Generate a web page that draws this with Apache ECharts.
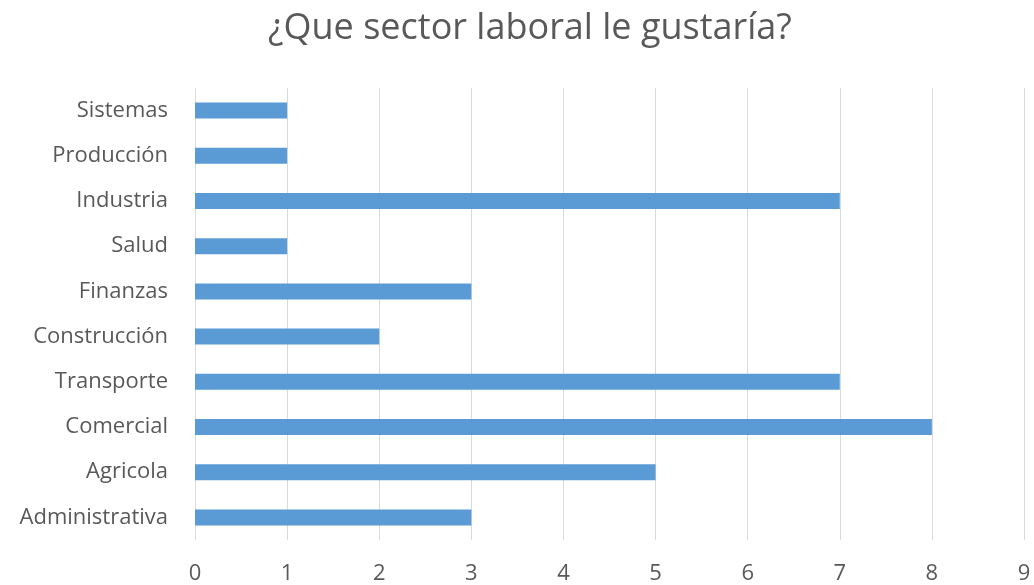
<!DOCTYPE html>
<html>
<head>
<meta charset="utf-8">
<script src="https://cdn.jsdelivr.net/npm/echarts@6/dist/echarts.min.js"></script>
<style>
  html, body { margin: 0; padding: 0; background: #ffffff; }
  #chart { width: 1034px; height: 585px; }
</style>
</head>
<body>
<div id="chart"></div>
<script>
// Sectors, listed bottom to top as they appear on the category axis
const sectores = ['Administrativa', 'Agricola', 'Comercial', 'Transporte', 'Construcción',
                  'Finanzas', 'Salud', 'Industria', 'Producción', 'Sistemas'];
// Number of responses per sector
const respuestas = [3, 5, 8, 7, 2, 3, 1, 7, 1, 1];
// Value axis ticks
const ejeMin = 0;
const ejeMax = 9;
const ejePaso = 1;

const chart = echarts.init(document.getElementById('chart'), null, { renderer: 'canvas' });
const fuente = '"Open Sans", "Noto Sans", sans-serif';
const gris = '#595959';

chart.setOption({
  animation: false,
  backgroundColor: '#ffffff',
  title: {
    text: '¿Que sector laboral le gustaría?',
    left: 263,
    top: 6,
    textStyle: { fontFamily: fuente, fontSize: 36, fontWeight: 'normal', color: gris }
  },
  grid: { left: 195, right: 10, top: 88, bottom: 45 },
  xAxis: {
    type: 'value',
    min: ejeMin,
    max: ejeMax,
    interval: ejePaso,
    axisLine: { show: false },
    axisTick: { show: false },
    splitLine: { lineStyle: { color: '#d9d9d9', width: 1 } },
    axisLabel: { fontFamily: fuente, fontSize: 22, color: gris, margin: 23 }
  },
  yAxis: {
    type: 'category',
    data: sectores,
    axisLine: { show: false },
    axisTick: { show: false },
    axisLabel: { fontFamily: fuente, fontSize: 22, color: gris, margin: 27 }
  },
  series: [{
    type: 'bar',
    data: respuestas,
    barWidth: 16,
    itemStyle: { color: '#5b9bd5' }
  }]
});
</script>
</body>
</html>
